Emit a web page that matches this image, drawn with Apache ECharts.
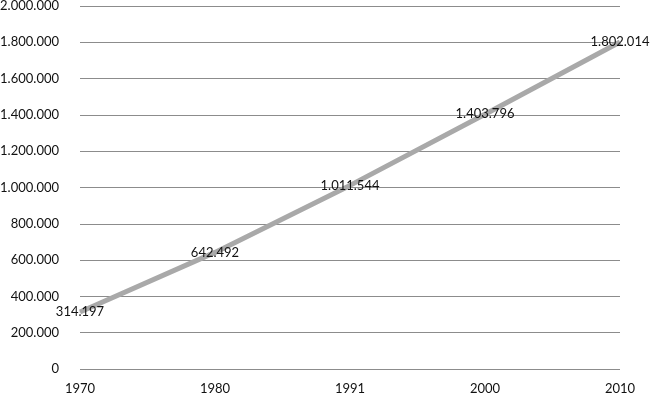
<!DOCTYPE html>
<html>
<head>
<meta charset="utf-8">
<script src="https://cdn.jsdelivr.net/npm/echarts@6/dist/echarts.min.js"></script>
<style>
  html, body { margin: 0; padding: 0; background: #fff; }
  #main { width: 650px; height: 400px; }
</style>
</head>
<body>
<div id="main"></div>
<script>
// data
const years = ['1970', '1980', '1991', '2000', '2010'];
const population = [314197, 642492, 1011544, 1403796, 1802014];

// 1234567 -> 1.234.567
const fmt = (v) => String(Math.round(v)).replace(/\B(?=(\d{3})+(?!\d))/g, '.');

const chart = echarts.init(document.getElementById('main'));
const option = {
  animation: false,
  textStyle: { fontFamily: 'Lato, "Open Sans", sans-serif' },
  grid: { left: 80, right: 30, top: 6, bottom: 31, outerBoundsMode: 'none' },
  xAxis: {
    type: 'category',
    data: years,
    boundaryGap: false,
    axisLine: { show: false },
    axisTick: { show: false },
    axisLabel: { color: '#111', fontSize: 13, margin: 13 }
  },
  yAxis: {
    type: 'value',
    min: 0,
    max: 2000000,
    interval: 200000,
    axisLine: { show: false },
    axisTick: { show: false },
    axisLabel: { color: '#111', fontSize: 13, margin: 21, formatter: fmt },
    splitLine: { lineStyle: { color: '#8c8c8c', width: 1 } }
  },
  series: [
    {
      type: 'line',
      data: population,
      symbol: 'circle',
      symbolSize: 1,
      showSymbol: true,
      itemStyle: { color: '#a9a9a9' },
      lineStyle: { color: '#a9a9a9', width: 5 },
      label: {
        show: true,
        position: 'inside',
        color: '#111',
        fontSize: 13,
        formatter: (p) => fmt(p.value)
      },
      labelLayout: { hideOverlap: false }
    }
  ]
};
chart.setOption(option);
</script>
</body>
</html>
